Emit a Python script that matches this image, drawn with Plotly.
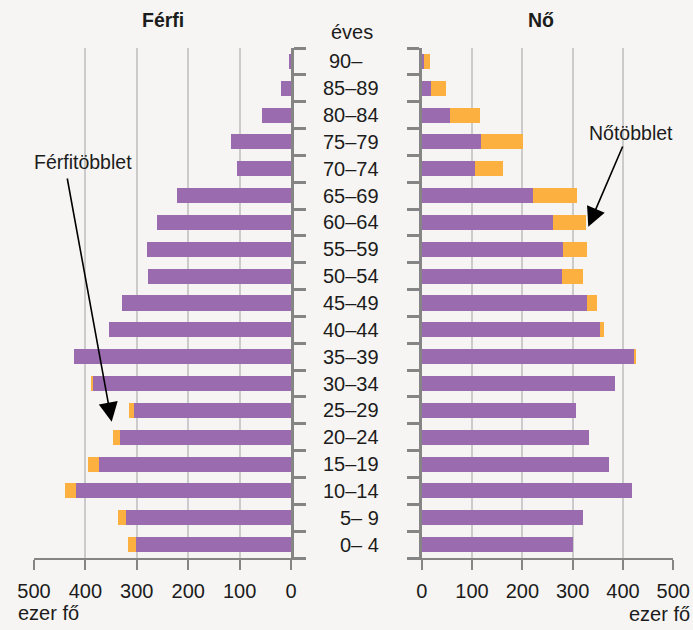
import plotly.graph_objects as go
from plotly.subplots import make_subplots

# Age groups, bottom to top
korcsoport = ["0– 4", "5– 9", "10–14", "15–19", "20–24", "25–29", "30–34",
              "35–39", "40–44", "45–49", "50–54", "55–59", "60–64", "65–69",
              "70–74", "75–79", "80–84", "85–89", "90–"]
# Population, thousand persons
ferfi = [317, 336, 440, 394, 347, 315, 390, 423, 355, 328, 278, 281, 260, 221,
         106, 117, 57, 19, 4]
no = [301, 321, 418, 373, 332, 306, 385, 424, 362, 348, 321, 329, 327, 309,
      162, 201, 115, 48, 16]
x_ticks = [0, 100, 200, 300, 400, 500]

kozos = [min(a, b) for a, b in zip(ferfi, no)]
ferfi_tobblet = [max(a - b, 0) for a, b in zip(ferfi, no)]
no_tobblet = [max(b - a, 0) for a, b in zip(ferfi, no)]

PURPLE = "#9b6baf"
ORANGE = "#fbb03f"
BG = "#f6f5f3"
AXIS = "#858585"
GRID = "#cbcbcb"
TXT = "#1c1c1c"
FONT = "Liberation Sans, Arial, sans-serif"
FS = 20
W, H = 693, 630

fig = make_subplots(rows=1, cols=2)

fig.add_trace(go.Bar(y=korcsoport, x=kozos, orientation="h", marker_color=PURPLE,
                     marker_line_width=0, showlegend=False), 1, 1)
fig.add_trace(go.Bar(y=korcsoport, x=ferfi_tobblet, orientation="h", marker_color=ORANGE,
                     marker_line_width=0, showlegend=False), 1, 1)
fig.add_trace(go.Bar(y=korcsoport, x=kozos, orientation="h", marker_color=PURPLE,
                     marker_line_width=0, showlegend=False), 1, 2)
fig.add_trace(go.Bar(y=korcsoport, x=no_tobblet, orientation="h", marker_color=ORANGE,
                     marker_line_width=0, showlegend=False), 1, 2)

ydom = [1 - 558 / H, 1 - 48 / H]
xcommon = dict(tickvals=x_ticks, showgrid=True, gridcolor=GRID, gridwidth=1.5,
               showline=True, linecolor=AXIS, linewidth=2, ticks="outside",
               ticklen=10, tickwidth=2, tickcolor=AXIS, zeroline=False,
               automargin=False, ticklabelstandoff=4,
               tickfont=dict(family=FONT, size=FS, color=TXT), fixedrange=True)
fig.update_xaxes(range=[500, 0], domain=[34 / W, 291 / W], **xcommon, row=1, col=1)
fig.update_xaxes(range=[0, 500], domain=[421.7 / W, 673.3 / W], **xcommon, row=1, col=2)

ycommon = dict(type="category", categoryorder="array", categoryarray=korcsoport,
               range=[-0.5, len(korcsoport) - 0.5], domain=ydom, automargin=False,
               showticklabels=False, showgrid=False, showline=True, linecolor=AXIS,
               linewidth=2.5, ticks="outside", tickson="boundaries", ticklen=12,
               tickwidth=2.5, tickcolor=AXIS, zeroline=False, fixedrange=True)
fig.update_yaxes(side="right", **ycommon, row=1, col=1)
fig.update_yaxes(side="left", **ycommon, row=1, col=2)

ann = []
for k in korcsoport:
    label = k if k != "90–" else "90–\u00a0\u00a0\u00a0"
    ann.append(dict(text=label, xref="paper", yref="y2", x=381 / W, y=k,
                    xanchor="right", yanchor="middle", showarrow=False,
                    font=dict(family=FONT, size=FS, color=TXT)))

def txt(t, x, y, size=FS, bold=False, xanchor="center"):
    return dict(text=f"<b>{t}</b>" if bold else t, xref="paper", yref="paper",
                x=x / W, y=1 - y / H, xanchor=xanchor, yanchor="middle",
                showarrow=False, font=dict(family=FONT, size=size, color=TXT))

ann += [
    txt("Férfi", 163, 20, size=19.5, bold=True),
    txt("Nő", 541, 20, size=19.5, bold=True),
    txt("éves", 352, 32, xanchor="center"),
    txt("ezer fő", 16, 613, xanchor="left"),
    txt("ezer fő", 692, 614, xanchor="right"),
    txt("Férfitöbblet", 83, 162, size=19.5),
    txt("Nőtöbblet", 631, 133, size=19.5),
]
# arrows
ann.append(dict(text="", xref="paper", yref="paper", x=111.7 / W, y=1 - 421.7 / H,
                ax=-44.7, ay=-244.7, showarrow=True, arrowhead=2, arrowsize=2.4,
                arrowwidth=1.6, arrowcolor="#000000"))
ann.append(dict(text="", xref="paper", yref="paper", x=588.3 / W, y=1 - 226.7 / H,
                ax=35, ay=-81.7, showarrow=True, arrowhead=2, arrowsize=2.4,
                arrowwidth=1.6, arrowcolor="#000000"))

fig.update_layout(width=W, height=H, margin=dict(l=0, r=0, t=0, b=0, autoexpand=False),
                  paper_bgcolor=BG, plot_bgcolor=BG, barmode="stack",
                  bargap=0.44, annotations=ann, showlegend=False,
                  font=dict(family=FONT, color=TXT))

fig.write_html("out.html", config={"displayModeBar": False},
               post_script="document.body.style.margin='0';document.body.style.background='%s';" % BG)
